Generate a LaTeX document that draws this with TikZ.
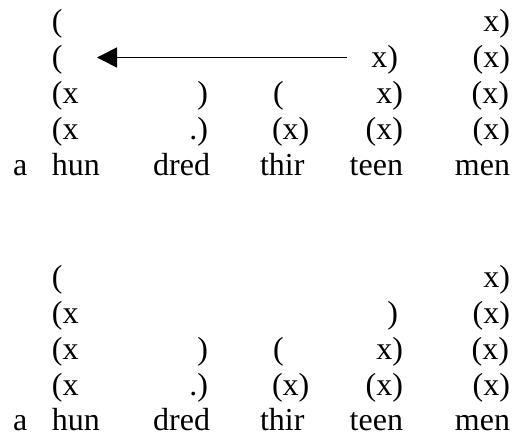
\documentclass[tikz,border=0pt]{standalone}
\usepackage{fontspec}
\setmainfont{Liberation Serif}
\usetikzlibrary{arrows.meta}
\begin{document}
\begin{tikzpicture}[x=1pt,y=-1pt,
  lbl/.style={font=\fontsize{32}{38}\selectfont, inner sep=0pt, outer sep=0pt},
  L/.style={lbl, anchor=base west},
  R/.style={lbl, anchor=base east},
  arr/.style={line width=1.6pt, -{Triangle[length=20pt,width=20pt]}}]
\useasboundingbox (0,0) rectangle (515,439);
% ---------- upper grid ----------
\node[L] (u1a) at (52,31) {(};
\node[R] (u1e) at (510,31) {x)};
\node[L] (u2a) at (52,67) {(};
\node[R] (u2d) at (398,67) {x)};
\node[R] (u2e) at (510,67) {(x)};
\node[L] (u3a) at (52,103) {(x};
\node[R] (u3b) at (208,103) {)};
\node[L] (u3c) at (273,103) {(};
\node[R] (u3d) at (403,103) {x)};
\node[R] (u3e) at (509,103) {(x)};
\node[L] (u4a) at (52,139) {(x};
\node[R] (u4b) at (208,139) {.)};
\node[L] (u4c) at (272,139) {(x)};
\node[R] (u4d) at (403,139) {(x)};
\node[R] (u4e) at (510,139) {(x)};
\node[L] (u5z) at (13,175) {a};
\node[L] (u5a) at (52,175) {hun};
\node[R] (u5b) at (210,175) {dred};
\node[L] (u5c) at (260,175) {thir};
\node[R] (u5d) at (403,175) {teen};
\node[R] (u5e) at (510,175) {men};
\coordinate (tail) at (347,57.5);
\coordinate (tip) at (97,57.5);
\draw[arr] (tail) -- (tip);
% ---------- lower grid ----------
\node[L] (l1a) at (52,287) {(};
\node[R] (l1e) at (510,287) {x)};
\node[L] (l2a) at (52,323) {(x};
\node[R] (l2d) at (398,323) {)};
\node[R] (l2e) at (510,323) {(x)};
\node[L] (l3a) at (52,359) {(x};
\node[R] (l3b) at (208,359) {)};
\node[L] (l3c) at (273,359) {(};
\node[R] (l3d) at (403,359) {x)};
\node[R] (l3e) at (509,359) {(x)};
\node[L] (l4a) at (52,395) {(x};
\node[R] (l4b) at (208,395) {.)};
\node[L] (l4c) at (272,395) {(x)};
\node[R] (l4d) at (403,395) {(x)};
\node[R] (l4e) at (510,395) {(x)};
\node[L] (l5z) at (13,430) {a};
\node[L] (l5a) at (52,430) {hun};
\node[R] (l5b) at (210,430) {dred};
\node[L] (l5c) at (260,430) {thir};
\node[R] (l5d) at (403,430) {teen};
\node[R] (l5e) at (510,430) {men};
\end{tikzpicture}
\end{document}
